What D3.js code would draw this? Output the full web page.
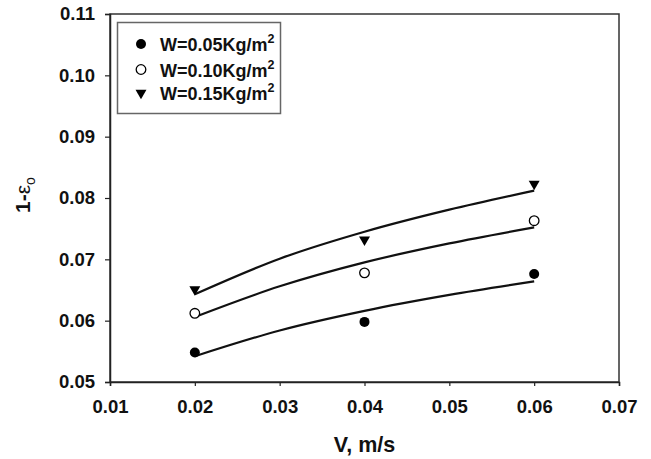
<!DOCTYPE html>
<html><head><meta charset="utf-8">
<script src="https://cdn.jsdelivr.net/npm/d3@7"></script>
<style>body{margin:0;background:#fff}svg{display:block}text{font-family:"Liberation Sans",Arial,sans-serif;font-weight:bold;fill:#111}</style>
</head><body><svg id="c" width="651" height="459"></svg>
<script>
const velocities = [0.02, 0.04, 0.06];
const w005 = [0.0548, 0.0598, 0.0676];
const w010 = [0.0612, 0.0678, 0.0763];
const w015 = [0.0651, 0.0732, 0.0823];
const fitV = [0.02, 0.03, 0.04, 0.05, 0.06];
const fit005 = [0.0542, 0.0584, 0.0616, 0.0642, 0.0664];
const fit010 = [0.0606, 0.0656, 0.0695, 0.0726, 0.0752];
const fit015 = [0.0643, 0.0701, 0.0745, 0.0781, 0.0812];
const seriesLabels = ["W=0.05Kg/m", "W=0.10Kg/m", "W=0.15Kg/m"];
const xTicks = [0.01, 0.02, 0.03, 0.04, 0.05, 0.06, 0.07];
const yTicks = [0.05, 0.06, 0.07, 0.08, 0.09, 0.10, 0.11];

const svg = d3.select("#c");
const L = 110, R = 619, T = 14, B = 382;
const x = d3.scaleLinear().domain([0.01, 0.07]).range([L, R]);
const y = d3.scaleLinear().domain([0.05, 0.11]).range([B, T]);

// frame
svg.append("rect").attr("x", L).attr("y", T).attr("width", R - L).attr("height", B - T)
  .attr("fill", "none").attr("stroke", "#333").attr("stroke-width", 1.5);

const xa = svg.append("g").attr("transform", `translate(0,${B})`)
  .call(d3.axisBottom(x).tickValues(xTicks).tickFormat(d3.format(".2f")).tickSize(4).tickPadding(14));
const ya = svg.append("g").attr("transform", `translate(${L},0)`)
  .call(d3.axisLeft(y).tickValues(yTicks).tickFormat(d3.format(".2f")).tickSize(5).tickPadding(10));
[xa, ya].forEach(a => {
  a.select(".domain").attr("stroke", "#222").attr("stroke-width", 1.5);
  a.selectAll(".tick line").attr("stroke", "#222").attr("stroke-width", 1.2);
  a.selectAll("text").attr("font-size", 18.5).attr("font-family", "Liberation Sans, Arial, sans-serif")
    .attr("font-weight", "bold").attr("fill", "#111");
});

// fit lines
const line = d3.line().x((d, i) => x(fitV[i])).y(d => y(d)).curve(d3.curveMonotoneX);
[fit005, fit010, fit015].forEach(f => {
  svg.append("path").datum(f).attr("d", line).attr("fill", "none")
    .attr("stroke", "#111").attr("stroke-width", 2.2);
});

// markers
const tri = d3.symbol().type(d3.symbolTriangle).size(52);
function marker(g, kind, cx, cy) {
  if (kind === 0) g.append("circle").attr("cx", cx).attr("cy", cy).attr("r", 5).attr("fill", "#000");
  else if (kind === 1) g.append("circle").attr("cx", cx).attr("cy", cy).attr("r", 4.8)
    .attr("fill", "#fff").attr("stroke", "#000").attr("stroke-width", 1.3);
  else g.append("path").attr("d", tri).attr("transform", `translate(${cx},${cy}) rotate(180)`).attr("fill", "#000");
}
[w005, w010, w015].forEach((s, k) => {
  s.forEach((v, i) => marker(svg, k, x(velocities[i]), y(v)));
});

// legend
const lg = svg.append("g");
lg.append("rect").attr("x", 117.5).attr("y", 22.5).attr("width", 163).attr("height", 91)
  .attr("fill", "#fff").attr("stroke", "#666").attr("stroke-width", 1.5);
const rows = [44, 69.5, 93];
seriesLabels.forEach((lab, k) => {
  marker(lg, k, 141, rows[k]);
  const t = lg.append("text").attr("x", 160).attr("y", rows[k] + 7).attr("font-size", 18);
  t.append("tspan").text(lab);
  t.append("tspan").attr("dy", -8).attr("font-size", 12.5).text("2");
});

// axis titles
svg.append("text").attr("x", (L + R) / 2).attr("y", 452).attr("text-anchor", "middle")
  .attr("font-size", 21.5).text("V, m/s");
const yt = svg.append("text").attr("transform", `translate(30,195) rotate(-90)`)
  .attr("text-anchor", "middle").attr("font-size", 21);
yt.append("tspan").text("1-");
yt.append("tspan").attr("font-weight", "normal").text("ε");
yt.append("tspan").attr("dy", 5).attr("font-size", 14).attr("font-weight", "normal").text("o");
</script></body></html>
